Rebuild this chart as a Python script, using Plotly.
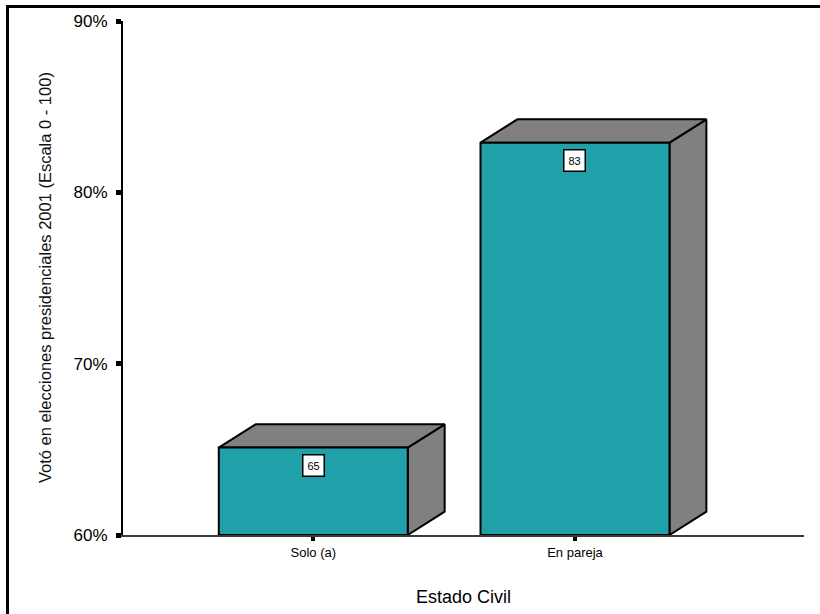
import plotly.graph_objects as go

categories = ["Solo (a)", "En pareja"]
values = [65.1, 82.9]
y_ticks = [60, 70, 80, 90]
y_tick_labels = ["60%", "70%", "80%", "90%"]

TEAL = "rgb(32,160,168)"
GRAY = "rgb(128,128,128)"
W = 0.722      # bar width in category units
DX = 0.141     # depth offset x (category units)
DY = 1.36      # depth offset y (value units)
BASE = 60
FONT = "Liberation Sans, Arial, sans-serif"

fig = go.Figure()
xs = list(range(len(categories)))
for xi, v in zip(xs, values):
    l, r = xi - W / 2, xi + W / 2
    # side face
    fig.add_trace(go.Scatter(
        x=[r, r + DX, r + DX, r, r], y=[BASE, BASE + DY, v + DY, v, BASE],
        mode="lines", fill="toself", fillcolor=GRAY,
        line=dict(color="black", width=2), cliponaxis=False,
        hoverinfo="skip", showlegend=False))
    # top face
    fig.add_trace(go.Scatter(
        x=[l, r, r + DX, l + DX, l], y=[v, v, v + DY, v + DY, v],
        mode="lines", fill="toself", fillcolor=GRAY,
        line=dict(color="black", width=2), cliponaxis=False,
        hoverinfo="skip", showlegend=False))
    # front face
    fig.add_trace(go.Scatter(
        x=[l, r, r, l, l], y=[BASE, BASE, v, v, BASE],
        mode="lines", fill="toself", fillcolor=TEAL,
        line=dict(color="black", width=2), cliponaxis=False,
        hoverinfo="skip", showlegend=False))
    fig.add_annotation(
        x=xi, y=v, xref="x", yref="y", text=f"{round(v)}",
        showarrow=False, yshift=-18, bgcolor="white",
        bordercolor="black", borderwidth=1.5, borderpad=4,
        font=dict(family=FONT, size=11, color="black"))

fig.update_xaxes(
    range=[-0.727, 1.875], tickvals=xs, ticktext=categories,
    showline=True, linecolor="#3a3a3a", linewidth=2,
    ticks="outside", ticklen=4, tickwidth=4, tickcolor="black",
    showgrid=False, zeroline=False,
    tickfont=dict(family=FONT, size=13, color="black"))
fig.update_yaxes(
    range=[60, 90], tickvals=y_ticks, ticktext=y_tick_labels,
    showline=True, linecolor="black", linewidth=2,
    ticks="outside", ticklen=5, tickwidth=5, tickcolor="black",
    ticklabelstandoff=5,
    showgrid=False, zeroline=False,
    tickfont=dict(family=FONT, size=17, color="black"))

fig.add_annotation(
    x=-0.1145, y=0.5, xref="paper", yref="paper", textangle=-90,
    xanchor="center", yanchor="middle",
    text="Votó en elecciones presidenciales 2001 (Escala 0 - 100)",
    showarrow=False, font=dict(family=FONT, size=16.5, color="#111111"))
fig.add_annotation(
    x=0.5, y=-0.1206, xref="paper", yref="paper", text="Estado Civil",
    xanchor="center", yanchor="middle",
    showarrow=False, font=dict(family=FONT, size=18, color="black"))

# outer frame
fig.add_shape(type="rect", xref="paper", yref="paper",
              x0=-0.1696, x1=1.2, y0=-0.25, y1=1.0282,
              line=dict(color="black", width=3), fillcolor="rgba(0,0,0,0)")

fig.update_layout(
    width=820, height=614,
    margin=dict(l=123, r=16, t=21, b=79),
    plot_bgcolor="white", paper_bgcolor="white",
    showlegend=False)

fig.write_html("out.html", config={"displayModeBar": False},
               post_script="document.body.style.margin='0';")
